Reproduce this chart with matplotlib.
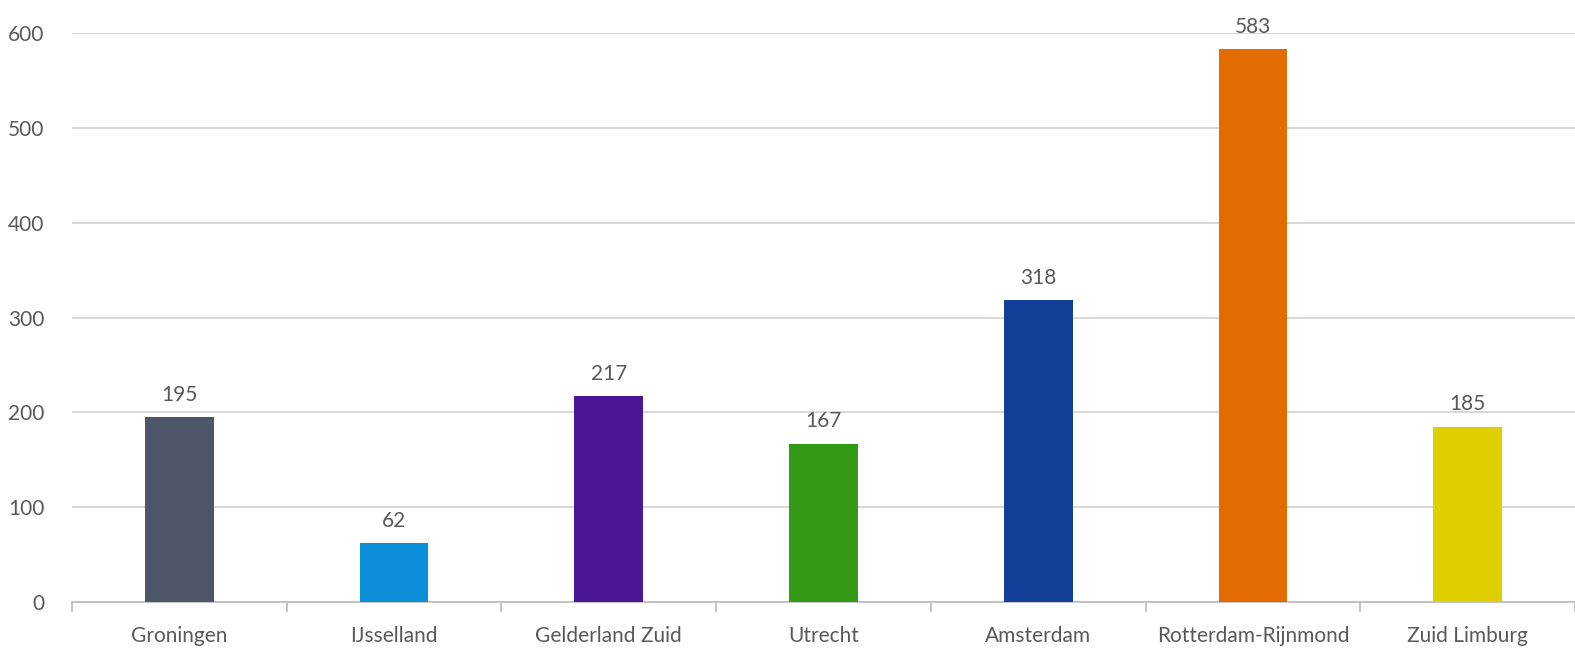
import numpy as np
import matplotlib.pyplot as plt

regions = ['Groningen', 'IJsselland', 'Gelderland Zuid', 'Utrecht',
           'Amsterdam', 'Rotterdam-Rijnmond', 'Zuid Limburg']
counts = [195, 62, 217, 167, 318, 583, 185]
colors = ['#4d5569', '#0a8fd8', '#4a1596', '#339a16',
          '#133f98', '#e36c02', '#e0cf00']

plt.rcParams['font.family'] = ['Lato', 'DejaVu Sans']

fig = plt.figure(figsize=(15.75, 6.49), dpi=100)
ax = fig.add_axes([0.0457, 0.0724, 0.9543, 0.8766])

x = np.arange(len(regions))
ax.bar(x, counts, width=0.32, color=colors, zorder=3)

# value labels above bars
for xi, v in zip(x, counts):
    ax.annotate(str(v), (xi, v), xytext=(0, 9), textcoords='offset points',
                ha='center', va='bottom', fontsize=15, color='#595959')

ax.set_ylim(0, 600)
ax.set_xlim(-0.5, len(regions) - 0.5)
ax.set_yticks(range(0, 601, 100))
ax.yaxis.grid(True, color='#d4d4d4', linewidth=1.3, zorder=0)
ax.tick_params(axis='y', length=0, pad=20, labelsize=15, labelcolor='#595959')

ax.set_xticks(x)
ax.set_xticklabels(regions)
ax.tick_params(axis='x', which='major', length=0, pad=17, labelsize=15,
               labelcolor='#595959')
ax.set_xticks(np.arange(-0.5, len(regions)), minor=True)
ax.tick_params(axis='x', which='minor', length=7, color='#bfbfbf', width=1.3)

for s in ['top', 'right', 'left']:
    ax.spines[s].set_visible(False)
ax.spines['bottom'].set_color('#bfbfbf')
ax.spines['bottom'].set_linewidth(1.3)

fig.savefig('out.png', dpi=100)
